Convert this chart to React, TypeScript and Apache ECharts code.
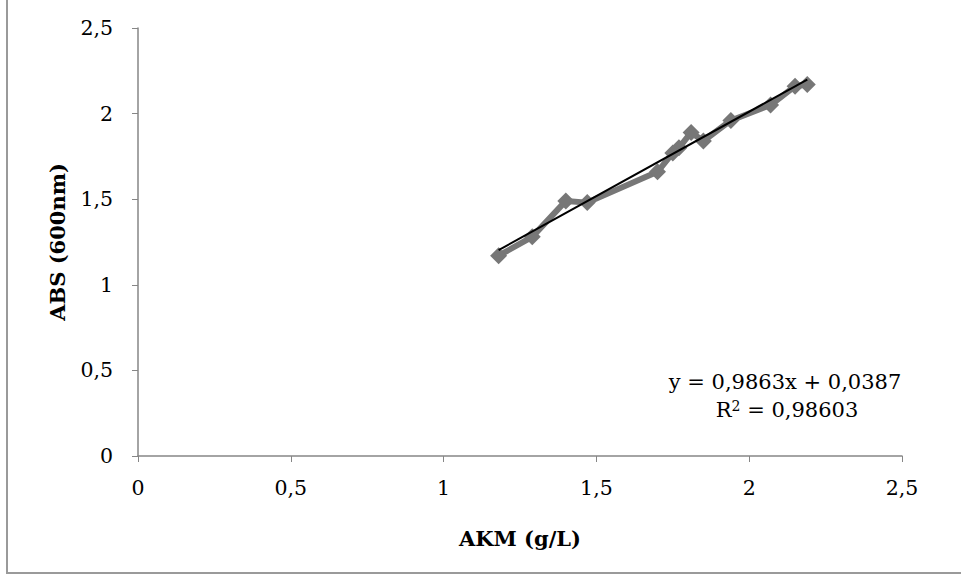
import React, { useEffect, useRef } from "react";
import * as echarts from "echarts";

const akm: number[] = [1.18, 1.29, 1.40, 1.47, 1.70, 1.75, 1.77, 1.81, 1.85, 1.94, 2.07, 2.15, 2.19];
const abs: number[] = [1.17, 1.28, 1.49, 1.48, 1.66, 1.77, 1.80, 1.89, 1.84, 1.96, 2.05, 2.16, 2.17];
const slope = 0.9863;
const intercept = 0.0387;
const equationLines: string[] = ["y = 0,9863x + 0,0387", "R{sup|2} = 0,98603"];
const xTitle = "AKM (g/L)";
const yTitle = "ABS (600nm)";

const FONT = "'DejaVu Serif', serif";

export default function App() {
  const ref = useRef<HTMLDivElement>(null);
  useEffect(() => {
    if (!ref.current) return;
    const chart = echarts.init(ref.current, undefined, { renderer: "svg" });
    const pts = akm.map((x, i) => [x, abs[i]]);
    const xmin = Math.min(...akm);
    const xmax = Math.max(...akm);
    const trend = [
      [xmin, slope * xmin + intercept],
      [xmax, slope * xmax + intercept],
    ];
    const fmt = (v: number) => String(v).replace(".", ",");
    chart.setOption({
      animation: false,
      backgroundColor: "#ffffff",
      grid: { left: 138, right: 59, top: 28, bottom: 122 },
      xAxis: {
        type: "value",
        min: 0,
        max: 2.5,
        interval: 0.5,
        name: xTitle,
        nameLocation: "middle",
        nameGap: 72,
        nameTextStyle: { fontFamily: FONT, fontSize: 21, fontWeight: "bold", color: "#000" },
        axisLine: { show: true, lineStyle: { color: "#868686", width: 1.5 } },
        axisTick: { show: true, length: 6, lineStyle: { color: "#868686" } },
        axisLabel: { formatter: fmt, fontFamily: FONT, fontSize: 20.5, color: "#000", margin: 21 },
        splitLine: { show: false },
      },
      yAxis: {
        type: "value",
        min: 0,
        max: 2.5,
        interval: 0.5,
        name: yTitle,
        nameLocation: "middle",
        nameGap: 70,
        nameRotate: 90,
        nameTextStyle: { fontFamily: FONT, fontSize: 21, fontWeight: "bold", color: "#000" },
        axisLine: { show: true, lineStyle: { color: "#868686", width: 1.5 } },
        axisTick: { show: true, length: 6, lineStyle: { color: "#868686" } },
        axisLabel: { formatter: fmt, fontFamily: FONT, fontSize: 20.5, color: "#000", margin: 25 },
        splitLine: { show: false },
      },
      series: [
        {
          type: "line",
          data: pts,
          symbol: "diamond",
          symbolSize: 17,
          itemStyle: { color: "#777777" },
          lineStyle: { color: "#777777", width: 6 },
          z: 2,
        },
        {
          type: "line",
          data: trend,
          symbol: "none",
          lineStyle: { color: "#000000", width: 2 },
          z: 3,
        },
      ],
      graphic: [
        {
          type: "rect",
          shape: { x: 7, y: -10, width: 1000, height: 583 },
          style: { fill: "none", stroke: "#9a9a9a", lineWidth: 2 },
          silent: true,
        },
        {
          type: "text",
          x: 785,
          y: 382,
          style: {
            text: equationLines[0],
            font: `21px ${FONT}`,
            fill: "#000",
            textAlign: "center",
            textVerticalAlign: "middle",
          },
        },
        {
          type: "text",
          x: 787,
          y: 410,
          style: {
            text: equationLines[1],
            font: `21px ${FONT}`,
            fill: "#000",
            textAlign: "center",
            textVerticalAlign: "middle",
            rich: {
              sup: { fontSize: 14, verticalAlign: "top", padding: [0, 0, 9, 0], fontFamily: FONT },
            },
          },
        },
      ],
    });
    return () => chart.dispose();
  }, []);
  return (
    <div
      ref={ref}
      style={{ position: "fixed", left: 0, top: 0, width: 961, height: 578 }}
    />
  );
}
